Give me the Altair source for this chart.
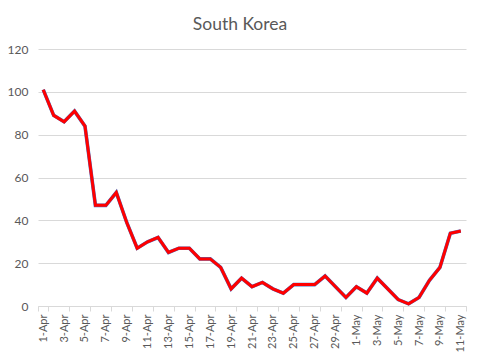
import altair as alt
import pandas as pd

dates = [f"{d}-Apr" for d in range(1, 31)] + [f"{d}-May" for d in range(1, 12)]
values = [101, 89, 86, 91, 84, 47, 47, 53, 39, 27, 30, 32, 25, 27, 27, 22, 22, 18, 8, 13,
          9, 11, 8, 6, 10, 10, 10, 14, 9, 4, 9, 6, 13, 8, 3, 1, 4, 12, 18, 34, 35]
label_dates = dates[::2]
y_ticks = [0, 20, 40, 60, 80, 100, 120]

df = pd.DataFrame({"date": dates, "value": values})

FONT = "Lato"
GREY = "#595959"

x = alt.X("date:N", sort=dates,
          scale=alt.Scale(paddingInner=0, paddingOuter=0),
          axis=alt.Axis(title=None, values=label_dates, labelAngle=-90,
                        labelAlign="right", labelBaseline="middle",
                        labelPadding=3, tickBand="extent", tickSize=5,
                        tickColor="#d9d9d9", domainColor="#d9d9d9",
                        labelColor=GREY, labelFont=FONT, labelFontSize=11,
                        grid=False))
y = alt.Y("value:Q", scale=alt.Scale(domain=[0, 120], nice=False),
          axis=alt.Axis(title=None, values=y_ticks, domain=False, ticks=False,
                        gridColor="#d9d9d9", labelColor=GREY, labelFont=FONT,
                        labelFontSize=12, labelPadding=10))

base = alt.Chart(df)
under = base.mark_line(color="#4472C4", strokeWidth=3.6).encode(x=x, y=y)
over = base.mark_line(color="#FF0000", strokeWidth=3).encode(x=x, y=y)

chart = (under + over).properties(
    width=428, height=257,
    title=alt.TitleParams("South Korea", font=FONT, fontSize=17.5, fontWeight="normal",
                          color=GREY, anchor="middle", dx=-12, offset=10),
    autosize=alt.AutoSizeParams(type="none"),
    padding={"left": 30, "top": 41, "right": 6, "bottom": 46},
).configure_view(stroke=None)

chart.save("out.html", embed_options={"renderer": "svg", "actions": False})
